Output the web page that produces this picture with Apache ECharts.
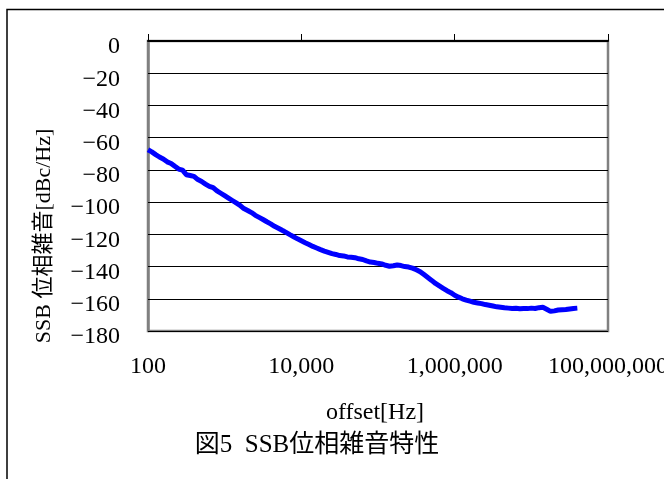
<!DOCTYPE html>
<html>
<head>
<meta charset="utf-8">
<script src="https://cdn.jsdelivr.net/npm/echarts@6/dist/echarts.min.js"></script>
<style>
html,body{margin:0;padding:0;background:#fff;}
#chart{width:664px;height:479px;}
</style>
</head>
<body>
<div id="chart"></div>
<script>
// offset frequency [Hz]
var freqHz = [
  100,112,126,141,158,178,200,224,251,282,316,355,398,447,501,562,631,708,794,891,
  1000,1122,1259,1413,1585,1778,1995,2239,2512,2818,3162,3548,3981,4467,5012,5623,6310,7079,7943,8913,
  10000,11220,12590,14130,15850,17780,19950,22390,25120,28180,31620,35480,39810,44670,50120,56230,63100,70790,79430,89130,
  100000,112200,125900,141300,158500,177800,199500,223900,251200,281800,316200,354800,398100,446700,501200,562300,631000,707900,794300,891300,
  1000000,1122000,1259000,1413000,1585000,1778000,1995000,2239000,2512000,2818000,3162000,3548000,3981000,4467000,5012000,5623000,6310000,7079000,7943000,8913000,
  10000000,11220000,12590000,14130000,15850000,17780000,19950000,22390000,25120000,28180000,31620000,35480000,39810000
];
// SSB phase noise [dBc/Hz]
var noiseDb = [
  -67.5,-68.8,-70.5,-72.0,-73.2,-75.0,-76.0,-77.8,-79.5,-80.2,-83.0,-83.5,-84.0,-86.0,-87.2,-88.8,-90.2,-91.0,-93.0,-94.5,
  -96.0,-97.5,-99.0,-100.5,-102.0,-104.0,-105.2,-106.5,-108.2,-109.5,-110.8,-112.2,-113.5,-115.0,-116.2,-117.5,-118.8,-120.2,-121.5,-122.8,
  -124.0,-125.2,-126.3,-127.5,-128.5,-129.5,-130.4,-131.2,-132.0,-132.5,-133.2,-133.4,-134.0,-134.2,-134.5,-135.2,-135.6,-136.5,-137.2,-137.5,
  -138.0,-138.4,-139.2,-139.8,-139.5,-139.0,-139.4,-140.0,-140.3,-141.0,-142.0,-143.2,-145.0,-146.8,-148.6,-150.5,-152.0,-153.5,-155.0,-156.2,
  -157.8,-159.0,-160.0,-160.8,-161.5,-162.2,-162.6,-163.0,-163.6,-164.0,-164.5,-165.0,-165.3,-165.6,-165.8,-166.0,-165.9,-166.2,-166.0,-166.1,
  -165.8,-166.0,-165.5,-165.3,-166.5,-167.8,-167.5,-167.0,-166.8,-166.6,-166.3,-166.0,-165.8
];
var xTickValues = [100, 10000, 1000000, 100000000];
var yMin = -180, yMax = 0, yStep = 20;
var yAxisTitle = 'SSB 位相雑音[dBc/Hz]';
var xAxisTitle = 'offset[Hz]';
var captionText = '図5  SSB位相雑音特性';

var FONT = '"Liberation Serif", "Noto Sans CJK JP", serif';
var seriesData = freqHz.map(function (f, i) { return [f, noiseDb[i]]; });

var chart = echarts.init(document.getElementById('chart'), null, {renderer: 'canvas'});
chart.setOption({
  backgroundColor: '#ffffff',
  animation: false,
  title: {
    text: captionText,
    left: 312, top: 428,
    textAlign: 'center',
    textStyle: {fontFamily: FONT, fontSize: 25, fontWeight: 'normal', color: '#000'}
  },
  grid: {
    left: 148, top: 41, width: 460, height: 290,
    outerBoundsMode: 'none',
    containLabel: false,
    show: true, borderColor: '#808080', borderWidth: 2.5, backgroundColor: 'transparent'
  },
  xAxis: [
    {
      type: 'log', logBase: 10, min: 100, max: 100000000,
      position: 'bottom',
      axisLine: {show: false, onZero: false},
      axisTick: {show: false},
      splitLine: {show: false},
      axisLabel: {
        customValues: xTickValues,
        margin: 24,
        hideOverlap: false,
        fontFamily: FONT, fontSize: 24, color: '#000',
        formatter: function (v) {
          var e = Math.round(Math.log10(v));
          if (e % 2 !== 0) return '';
          return Number(v).toLocaleString('en-US');
        }
      }
    },
    {
      type: 'log', logBase: 10, min: 100, max: 100000000,
      position: 'top',
      axisLine: {show: true, onZero: false, lineStyle: {color: '#000', width: 2}},
      axisTick: {show: true, customValues: xTickValues, length: 7, lineStyle: {color: '#000', width: 1}},
      axisLabel: {show: false},
      splitLine: {show: false}
    }
  ],
  yAxis: {
    type: 'value', min: yMin, max: yMax, interval: yStep,
    axisLine: {show: true, onZero: false, lineStyle: {color: '#808080', width: 2.5}},
    axisTick: {show: true, inside: true, length: 8, lineStyle: {color: '#000', width: 1}},
    splitLine: {show: true, lineStyle: {color: '#000', width: 1}},
    axisLabel: {
      margin: 28,
      verticalAlign: 'top',
      lineHeight: 12,
      fontFamily: FONT, fontSize: 24, color: '#000',
      formatter: function (v) { return v < 0 ? '\u2212' + Math.abs(v) : String(v); }
    }
  },
  graphic: [
    {
      type: 'rect', silent: true, z: 100,
      shape: {x: 7, y: 9.5, width: 720, height: 520},
      style: {fill: 'none', stroke: '#000', lineWidth: 1.5}
    },
    {
      type: 'text', x: 44, y: 236, rotation: Math.PI / 2,
      style: {text: yAxisTitle, fontFamily: FONT, fontSize: 22, fill: '#000', align: 'center', verticalAlign: 'middle'}
    },
    {
      type: 'text', x: 375, y: 413,
      style: {text: xAxisTitle, fontFamily: FONT, fontSize: 24, fill: '#000', align: 'center', verticalAlign: 'middle'}
    }
  ],
  series: [{
    type: 'line',
    xAxisIndex: 0,
    data: seriesData,
    showSymbol: false,
    lineStyle: {color: '#0000ff', width: 5},
    z: 5
  }]
});
</script>
</body>
</html>
